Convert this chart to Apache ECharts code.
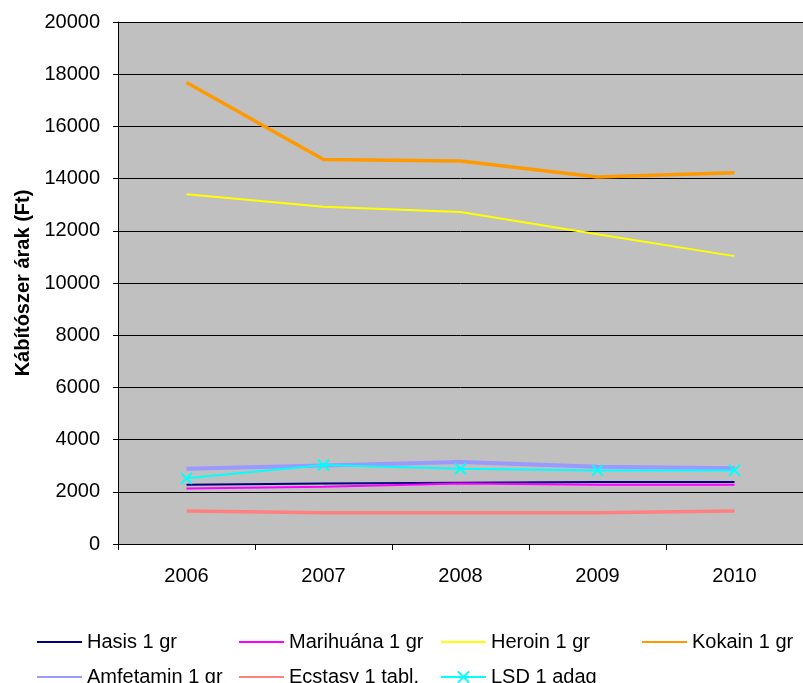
<!DOCTYPE html>
<html>
<head>
<meta charset="utf-8">
<script src="https://cdn.jsdelivr.net/npm/echarts@6/dist/echarts.min.js"></script>
<style>
  html, body { margin: 0; padding: 0; background: #ffffff; }
  #main { width: 803px; height: 683px; }
</style>
</head>
<body>
<div id="main"></div>
<script>
const years = ['2006', '2007', '2008', '2009', '2010']
const hasis = [2270, 2320, 2350, 2375, 2375]
const marihuana = [2130, 2195, 2320, 2270, 2270]
const heroin = [13400, 12920, 12720, 11870, 11030]
const kokain = [17680, 14730, 14670, 14060, 14220]
const amfetamin = [2885, 3010, 3140, 2960, 2900]
const ecstasy = [1265, 1200, 1200, 1200, 1265]
const lsd = [2515, 3025, 2885, 2820, 2820]

const seriesNames = ['Hasis 1 gr', 'Marihuána 1 gr', 'Heroin 1 gr', 'Kokain 1 gr', 'Amfetamin 1 gr', 'Ecstasy 1 tabl.', 'LSD 1 adag']

const font = 'Liberation Sans, Arial, sans-serif'

// legend slots (left, top) for each series
const legendPos = [
  [36, 632], [238, 632], [440, 632], [641, 632],
  [36, 667], [238, 667], [440, 667],
]

function lineSeries(name, data, color, width) {
  return {
    name: name,
    type: 'line',
    data: data,
    symbol: 'none',
    lineStyle: { color: color, width: width },
    itemStyle: { color: color },
    emphasis: { disabled: true },
  }
}

const series = [
  lineSeries(seriesNames[0], hasis, '#000080', 2),
  lineSeries(seriesNames[1], marihuana, '#ff00ff', 2),
  lineSeries(seriesNames[2], heroin, '#ffff00', 2),
  lineSeries(seriesNames[3], kokain, '#ff9900', 3.5),
  lineSeries(seriesNames[4], amfetamin, '#9999ff', 4),
  lineSeries(seriesNames[5], ecstasy, '#ff8080', 3.5),
  {
    name: seriesNames[6],
    type: 'line',
    data: lsd,
    symbol: 'path://M0,0L10,10M10,0L0,10',
    symbolSize: 11,
    lineStyle: { color: '#00ffff', width: 2 },
    itemStyle: { color: '#00ffff', borderColor: '#00ffff', borderWidth: 2 },
    emphasis: { disabled: true },
  },
]

const legends = seriesNames.map((name, i) => ({
  data: [name],
  left: legendPos[i][0],
  top: legendPos[i][1],
  padding: 0,
  itemWidth: 45,
  itemHeight: 14,
  itemGap: 0,
  itemStyle: i === 6 ? {} : { opacity: 0 },
  textStyle: { fontFamily: font, fontSize: 20, color: '#000' },
}))

const chart = echarts.init(document.getElementById('main'))
const option = {
  backgroundColor: '#ffffff',
  animation: false,
  legend: legends,
  grid: {
    left: 118,
    right: -3,
    top: 22,
    bottom: 139,
    show: true,
    backgroundColor: '#c0c0c0',
    borderWidth: 0,
  },
  xAxis: {
    type: 'category',
    data: years,
    boundaryGap: true,
    axisLine: { lineStyle: { color: '#000', width: 1 } },
    axisTick: { show: true, length: 6, inside: false, lineStyle: { color: '#000' } },
    axisLabel: { fontFamily: font, fontSize: 20, color: '#000', margin: 22 },
  },
  yAxis: {
    type: 'value',
    min: 0,
    max: 20000,
    interval: 2000,
    name: 'Kábítószer árak (Ft)',
    nameLocation: 'middle',
    nameGap: 85,
    nameTextStyle: { fontFamily: font, fontSize: 20, fontWeight: 'bold', color: '#000' },
    axisLine: { show: true, lineStyle: { color: '#000', width: 1 } },
    axisTick: { show: true, length: 5, lineStyle: { color: '#000' } },
    axisLabel: { fontFamily: font, fontSize: 20, color: '#000', margin: 18, formatter: (v) => String(v) },
    splitLine: { show: true, lineStyle: { color: '#000', width: 1 } },
  },
  series: series,
}
chart.setOption(option)
</script>
</body>
</html>
